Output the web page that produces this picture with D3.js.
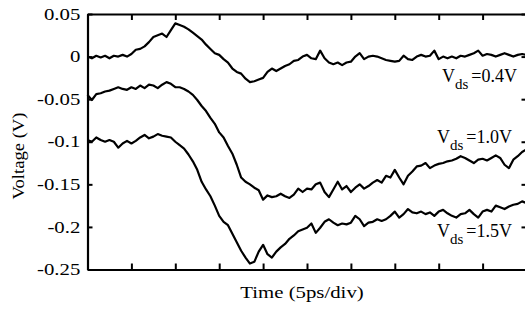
<!DOCTYPE html>
<html>
<head>
<meta charset="utf-8">
<script src="https://cdn.jsdelivr.net/npm/d3@7"></script>
<style>
  body { margin: 0; background: #fff; }
  svg text { font-family: "Liberation Serif", "Times New Roman", serif; fill: #000; }
</style>
</head>
<body>
<div id="chart"></div>
<script>
var width = 525;
var height = 309;

// time axis: 10 divisions of 5 ps, samples every 0.5 ps
var timeTicks = [0, 5, 10, 15, 20, 25, 30, 35, 40, 45, 50];
var voltTicks = [0.05, 0, -0.05, -0.1, -0.15, -0.2, -0.25];
var voltLabels = ["0.05", "0", "-0.05", "-0.1", "-0.15", "-0.2", "-0.25"];
var time = d3.range(0, 50.001, 0.5);

var vds04 = [0, -0.002, 0.001, -0.001, 0.001, -0.002, 0.001, 0, 0.002, 0, 0.003,
  0.008, 0.009, 0.012, 0.017, 0.023, 0.025, 0.027, 0.023, 0.031, 0.039,
  0.037, 0.035, 0.032, 0.028, 0.024, 0.020, 0.014, 0.009, 0.004, 0.002,
  -0.003, -0.007, -0.014, -0.018, -0.020, -0.026, -0.030, -0.029, -0.027, -0.025,
  -0.018, -0.014, -0.017, -0.014, -0.011, -0.009, -0.005, -0.004, 0, 0.002,
  -0.002, -0.003, 0.007, -0.002, -0.007, -0.009, -0.007, -0.010, -0.007, -0.006,
  0, 0.004, -0.003, 0, 0.001, 0, -0.002, -0.004, -0.005, -0.006,
  -0.005, 0.001, -0.003, -0.004, 0, 0.002, 0, 0.001, 0.007, -0.003,
  0, -0.002, 0, -0.002, 0.001, 0, 0.002, 0.004, 0.007, 0.001,
  0.003, 0.002, 0, 0.002, 0.004, 0.002, 0, 0.002, 0.003, 0.002];

var vds10 = [-0.045, -0.051, -0.044, -0.043, -0.041, -0.040, -0.038, -0.036, -0.038, -0.039, -0.036,
  -0.038, -0.034, -0.037, -0.033, -0.034, -0.037, -0.033, -0.030, -0.032, -0.036,
  -0.036, -0.038, -0.041, -0.045, -0.051, -0.058, -0.064, -0.072, -0.079, -0.089,
  -0.095, -0.105, -0.114, -0.127, -0.142, -0.147, -0.150, -0.154, -0.157, -0.168,
  -0.163, -0.165, -0.164, -0.161, -0.164, -0.166, -0.162, -0.155, -0.159, -0.155,
  -0.156, -0.150, -0.148, -0.159, -0.165, -0.156, -0.147, -0.156, -0.152, -0.159,
  -0.154, -0.150, -0.155, -0.152, -0.148, -0.145, -0.148, -0.140, -0.142, -0.133,
  -0.142, -0.150, -0.140, -0.135, -0.129, -0.128, -0.125, -0.131, -0.128, -0.126,
  -0.125, -0.123, -0.122, -0.120, -0.117, -0.119, -0.122, -0.125, -0.121, -0.120,
  -0.122, -0.119, -0.116, -0.119, -0.127, -0.131, -0.121, -0.117, -0.112, -0.109];

var vds15 = [-0.098, -0.100, -0.095, -0.098, -0.100, -0.098, -0.100, -0.107, -0.102, -0.099, -0.102,
  -0.099, -0.095, -0.092, -0.096, -0.094, -0.091, -0.093, -0.094, -0.095, -0.100,
  -0.104, -0.108, -0.115, -0.123, -0.133, -0.147, -0.156, -0.164, -0.175, -0.187,
  -0.194, -0.198, -0.208, -0.218, -0.228, -0.236, -0.243, -0.241, -0.229, -0.221,
  -0.232, -0.236, -0.229, -0.224, -0.220, -0.214, -0.210, -0.205, -0.203, -0.201,
  -0.196, -0.207, -0.201, -0.194, -0.191, -0.195, -0.198, -0.196, -0.197, -0.195,
  -0.187, -0.191, -0.199, -0.195, -0.194, -0.191, -0.193, -0.191, -0.187, -0.182,
  -0.189, -0.185, -0.179, -0.183, -0.184, -0.182, -0.185, -0.183, -0.187, -0.182,
  -0.180, -0.184, -0.187, -0.189, -0.185, -0.184, -0.180, -0.185, -0.189, -0.182,
  -0.180, -0.182, -0.175, -0.177, -0.179, -0.176, -0.174, -0.173, -0.170, -0.172];

var seriesNames = ["0.4V", "1.0V", "1.5V"];
var seriesValues = [vds04, vds10, vds15];

var plotLeft = 87.5, plotRight = 526.5, plotTop = 14, plotBottom = 269.5;

var svg = d3.select("#chart").append("svg")
          .attr("width", width)
          .attr("height", height);

var x = d3.scaleLinear().domain([0, 50]).range([plotLeft, plotRight]);
var y = d3.scaleLinear().domain([-0.25, 0.05]).range([plotBottom, plotTop]);

function styleAxis(g) {
  g.selectAll("path.domain").attr("stroke", "#000").attr("stroke-width", 2.2);
  g.selectAll(".tick line").attr("stroke", "#000").attr("stroke-width", 2);
}

// left axis with labels (scanned type is a bit wide, hence the x-stretch)
svg.append("g")
   .attr("transform", "translate(" + plotLeft + ",0)")
   .call(d3.axisLeft(y).tickValues(voltTicks).tickSize(-5).tickSizeOuter(0).tickPadding(5.5)
          .tickFormat(function(d, i) { return voltLabels[i]; }))
   .call(styleAxis)
   .selectAll("text")
   .attr("font-size", 16)
   .attr("font-family", "Liberation Serif")
   .attr("transform", "scale(1.3,1)");

// right axis, ticks only
svg.append("g")
   .attr("transform", "translate(" + plotRight + ",0)")
   .call(d3.axisRight(y).tickValues(voltTicks).tickSize(-5).tickSizeOuter(0).tickFormat(""))
   .call(styleAxis);

// bottom and top axes, ticks only
svg.append("g")
   .attr("transform", "translate(0," + plotBottom + ")")
   .call(d3.axisBottom(x).tickValues(timeTicks).tickSize(-6).tickSizeOuter(0).tickFormat(""))
   .call(styleAxis);

svg.append("g")
   .attr("transform", "translate(0," + plotTop + ")")
   .call(d3.axisTop(x).tickValues(timeTicks).tickSize(-6).tickSizeOuter(0).tickFormat(""))
   .call(styleAxis);

var line = d3.line()
             .x(function(d, i) { return x(time[i]); })
             .y(function(d) { return y(d); });

svg.selectAll(".trace")
   .data(seriesValues)
   .enter().append("path")
   .attr("class", "trace")
   .attr("d", line)
   .attr("fill", "none")
   .attr("stroke", "#000")
   .attr("stroke-width", 2.2)
   .attr("stroke-linejoin", "round");

// curve labels
var labelPos = [[517, 82], [512, 143], [512, 237]];
seriesNames.forEach(function(name, i) {
  var t = svg.append("text")
             .attr("x", labelPos[i][0])
             .attr("y", labelPos[i][1])
             .attr("text-anchor", "end")
             .attr("font-size", 18);
  t.append("tspan").text("V");
  t.append("tspan").attr("dy", 7).attr("font-size", 15).text("ds");
  t.append("tspan").attr("dy", -7).attr("dx", 3).text("=" + name);
});

// axis titles
svg.append("text")
   .attr("transform", "translate(24,156) scale(1.1,1) rotate(-90)")
   .attr("text-anchor", "middle")
   .attr("font-size", 16)
   .attr("textLength", 87)
   .attr("lengthAdjust", "spacingAndGlyphs")
   .text("Voltage (V)");

svg.append("text")
   .attr("transform", "translate(302,298) scale(1.3,1)")
   .attr("text-anchor", "middle")
   .attr("font-size", 16)
   .text("Time (5ps/div)");
</script>
</body>
</html>
